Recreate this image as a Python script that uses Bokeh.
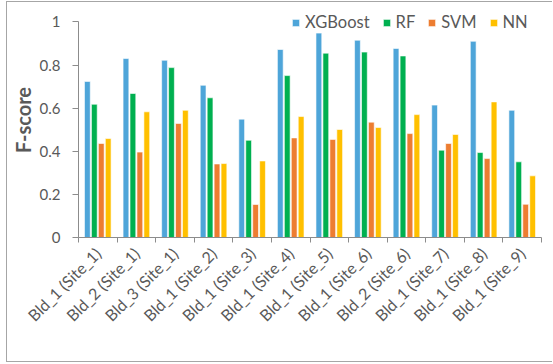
import numpy as np
from bokeh.plotting import figure
from bokeh.models import ColumnDataSource, FixedTicker, Range1d, Legend, LegendItem
from bokeh.transform import dodge
from bokeh.embed import file_html
from bokeh.resources import INLINE

categories = ["Bld_1 (Site_1)", "Bld_2 (Site_1)", "Bld_3 (Site_1)", "Bld_1 (Site_2)",
              "Bld_1 (Site_3)", "Bld_1 (Site_4)", "Bld_1 (Site_5)", "Bld_1 (Site_6)",
              "Bld_2 (Site_6)", "Bld_1 (Site_7)", "Bld_1 (Site_8)", "Bld_1 (Site_9)"]
xgboost = [0.724, 0.830, 0.822, 0.706, 0.549, 0.872, 0.948, 0.915, 0.877, 0.614, 0.910, 0.590]
rf      = [0.618, 0.668, 0.788, 0.648, 0.451, 0.751, 0.855, 0.860, 0.842, 0.405, 0.394, 0.351]
svm     = [0.436, 0.396, 0.529, 0.341, 0.153, 0.462, 0.455, 0.535, 0.482, 0.436, 0.366, 0.154]
nn      = [0.459, 0.583, 0.590, 0.343, 0.355, 0.561, 0.501, 0.510, 0.570, 0.478, 0.629, 0.286]
series_names = ["XGBoost", "RF", "SVM", "NN"]
colors = ["#4EA5D9", "#00B050", "#ED7D31", "#FFC000"]
y_ticks = [0, 0.2, 0.4, 0.6, 0.8, 1.0]
y_tick_labels = ["0", "0.2", "0.4", "0.6", "0.8", "1"]

n = len(categories)
centers = [i + 0.5 for i in range(n)]
bounds = list(range(n + 1))
src = ColumnDataSource(dict(x=centers, XGBoost=xgboost, RF=rf, SVM=svm, NN=nn))

FONT = "Lato"
TXT = "#595959"
AX = "#8C8C8C"

p = figure(width=546, height=361, output_backend="svg", toolbar_location=None,
           x_range=Range1d(0, n), y_range=Range1d(0, 1.09),
           min_border_left=68, min_border_right=12, min_border_top=0, min_border_bottom=126)
p.styles = {"border-left": "1px solid #A6A6A6", "border-top": "1px solid #A6A6A6",
            "border-bottom": "1px solid #A6A6A6", "margin-left": "6px", "margin-top": "1px"}
p.outline_line_color = None
p.xgrid.grid_line_color = None
p.ygrid.grid_line_color = None
p.background_fill_color = "white"
p.border_fill_color = "white"

offsets = [-0.27, -0.09, 0.09, 0.27]
items = []
for name, col, off in zip(series_names, colors, offsets):
    r = p.vbar(x=dodge("x", off), top=name, width=0.15, source=src,
               fill_color=col, line_color="white", line_width=0.6)
    items.append(LegendItem(label=name, renderers=[r]))

# x axis
xa = p.xaxis[0]
xa.ticker = FixedTicker(ticks=centers, minor_ticks=bounds)
xa.major_label_overrides = {c: lab for c, lab in zip(centers, categories)}
xa.major_label_orientation = np.pi / 4
xa.major_tick_out = 0
xa.major_tick_in = 0
xa.minor_tick_out = 5
xa.minor_tick_in = 0
xa.minor_tick_line_color = AX
xa.axis_line_color = AX
xa.major_label_text_font = FONT
xa.major_label_text_font_size = "16px"
xa.major_label_text_color = TXT
xa.major_label_standoff = 8

# y axis
ya = p.yaxis[0]
ya.ticker = FixedTicker(ticks=y_ticks)
ya.bounds = (0, 1)
ya.major_label_overrides = {t: l for t, l in zip(y_ticks, y_tick_labels)}
ya.major_tick_out = 6
ya.major_tick_in = 0
ya.minor_tick_line_color = None
ya.major_tick_line_color = AX
ya.axis_line_color = AX
ya.major_label_text_font = FONT
ya.major_label_text_font_size = "15px"
ya.major_label_text_color = TXT
ya.major_label_standoff = 12
ya.axis_label = "F-score"
ya.axis_label_text_font = FONT
ya.axis_label_text_font_style = "bold"
ya.axis_label_text_font_size = "20px"
ya.axis_label_text_color = TXT
ya.axis_label_standoff = 2

legend = Legend(items=items, orientation="horizontal", location=(213, 205),
                glyph_width=9, glyph_height=9, label_standoff=5, spacing=12,
                label_width=0, padding=0, margin=0, border_line_color=None,
                background_fill_alpha=0,
                label_text_font=FONT, label_text_font_size="16.5px", label_text_color=TXT)
p.add_layout(legend, "center")

open("out.html", "w").write(file_html(p, INLINE))
